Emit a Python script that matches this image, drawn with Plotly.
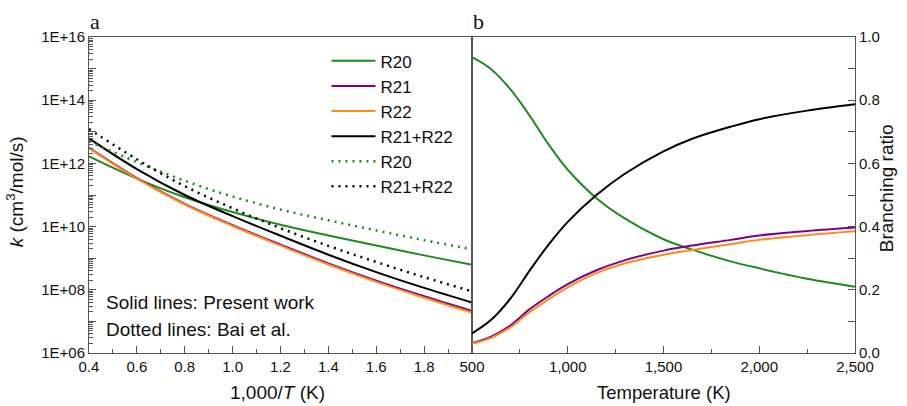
import plotly.graph_objects as go

# ---------------- Data (panel a) ----------------
inv_T = [0.4, 0.6, 0.8, 1.0, 1.2, 1.4, 1.6, 1.8, 2.0]
logk_R20 = [12.22, 11.52, 10.93, 10.46, 10.06, 9.72, 9.40, 9.09, 8.79]
logk_R21 = [12.49, 11.535, 10.72, 10.045, 9.43, 8.835, 8.29, 7.795, 7.33]
logk_R22 = [12.48, 11.52, 10.70, 10.02, 9.40, 8.80, 8.25, 7.75, 7.28]
logk_R21R22 = [12.79, 11.82, 11.00, 10.33, 9.71, 9.11, 8.56, 8.06, 7.60]
logk_R20_bai = [12.70, 12.04, 11.45, 10.95, 10.54, 10.20, 9.88, 9.57, 9.28]
logk_R21R22_bai = [13.09, 12.13, 11.28, 10.58, 9.95, 9.39, 8.88, 8.40, 7.95]

# ---------------- Data (panel b) ----------------
temp = [500, 600, 700, 800, 900, 1000, 1150, 1300, 1500, 1650, 1850, 2000, 2250, 2500]
br_R20 = [0.936, 0.898, 0.835, 0.752, 0.66, 0.58, 0.49, 0.425, 0.36, 0.327, 0.29, 0.268, 0.235, 0.210]
br_R21 = [0.031, 0.052, 0.087, 0.138, 0.18, 0.218, 0.262, 0.294, 0.324, 0.34, 0.358, 0.372, 0.386, 0.397]
br_R22 = [0.029, 0.048, 0.081, 0.129, 0.17, 0.208, 0.253, 0.284, 0.311, 0.326, 0.344, 0.358, 0.373, 0.385]
br_R21R22 = [0.062, 0.105, 0.172, 0.26, 0.343, 0.415, 0.50, 0.568, 0.638, 0.678, 0.716, 0.740, 0.767, 0.787]

# tick labels
left_x_ticks = [0.4, 0.6, 0.8, 1.0, 1.2, 1.4, 1.6, 1.8]
left_y_decades = list(range(6, 17))
right_x_ticks = [500, 1000, 1500, 2000, 2500]
right_y_ticks = [0.0, 0.2, 0.4, 0.6, 0.8, 1.0]

GREEN = "#1f8a1f"
PURPLE = "#800080"
ORANGE = "#ff8c1a"
BLACK = "#000000"
AXC = "#555555"
TXT = "#111111"
FONT = "Liberation Sans, Arial, sans-serif"
SERIF = "Liberation Serif, Times New Roman, serif"


def pw(v):
    return [10 ** x for x in v]


fig = go.Figure()
spl = dict(shape="spline", smoothing=1.0)

fig.add_trace(go.Scatter(x=inv_T, y=pw(logk_R20), mode="lines", name="R20",
                         line=dict(color=GREEN, width=2, **spl), xaxis="x", yaxis="y"))
fig.add_trace(go.Scatter(x=inv_T, y=pw(logk_R21), mode="lines", name="R21",
                         line=dict(color=PURPLE, width=2, **spl), xaxis="x", yaxis="y"))
fig.add_trace(go.Scatter(x=inv_T, y=pw(logk_R22), mode="lines", name="R22",
                         line=dict(color=ORANGE, width=2, **spl), xaxis="x", yaxis="y"))
fig.add_trace(go.Scatter(x=inv_T, y=pw(logk_R21R22), mode="lines", name="R21+R22",
                         line=dict(color=BLACK, width=2, **spl), xaxis="x", yaxis="y"))
fig.add_trace(go.Scatter(x=inv_T, y=pw(logk_R20_bai), mode="lines", name="R20",
                         line=dict(color=GREEN, width=2.5, dash="2px,5px", **spl), xaxis="x", yaxis="y"))
fig.add_trace(go.Scatter(x=inv_T, y=pw(logk_R21R22_bai), mode="lines", name="R21+R22",
                         line=dict(color=BLACK, width=2.5, dash="2px,5px", **spl), xaxis="x", yaxis="y"))

for yv, c in [(br_R20, GREEN), (br_R21, PURPLE), (br_R22, ORANGE), (br_R21R22, BLACK)]:
    fig.add_trace(go.Scatter(x=temp, y=yv, mode="lines", showlegend=False,
                             line=dict(color=c, width=2, **spl), xaxis="x2", yaxis="y2"))

tickfont = dict(family=FONT, size=15, color=TXT)

y_major_vals = [10 ** d for d in left_y_decades]
y_major_text = [("1E+%02d" % d) if d % 2 == 0 else "" for d in left_y_decades]
y_minor_vals = [m * 10 ** d for d in range(6, 16) for m in range(2, 10)]

fig.update_layout(
    width=907, height=406,
    margin=dict(l=89, r=52, t=37, b=53),
    paper_bgcolor="white", plot_bgcolor="white",
    font=dict(family=FONT, size=15, color=TXT),
    xaxis=dict(domain=[0, 0.5], range=[0.4, 2.0], anchor="y",
               tickmode="array", tickvals=left_x_ticks,
               ticktext=["%.1f" % v for v in left_x_ticks],
               ticks="inside", ticklen=7, tickcolor=AXC, tickwidth=1,
               minor=dict(tickmode="array", tickvals=[0.5, 0.7, 0.9, 1.1, 1.3, 1.5, 1.7, 1.9, 2.0],
                          ticks="inside", ticklen=4, tickcolor=AXC),
               showline=True, linecolor=AXC, linewidth=1, mirror=True,
               showgrid=False, zeroline=False, tickfont=tickfont),
    yaxis=dict(type="log", range=[6, 16], anchor="x",
               tickmode="array", tickvals=y_major_vals, ticktext=y_major_text,
               ticks="inside", ticklen=7, tickcolor=AXC,
               minor=dict(tickmode="array", tickvals=y_minor_vals,
                          ticks="inside", ticklen=3.5, tickcolor=AXC),
               showline=True, linecolor=AXC, linewidth=1, mirror=True,
               showgrid=False, zeroline=False, tickfont=tickfont),
    xaxis2=dict(domain=[0.5, 1], range=[500, 2500], anchor="y2",
                tickmode="array", tickvals=right_x_ticks,
                ticktext=["{:,}".format(v) for v in right_x_ticks],
                ticks="inside", ticklen=7, tickcolor=AXC,
                minor=dict(tickmode="array", tickvals=[750, 1250, 1750, 2250],
                           ticks="inside", ticklen=4, tickcolor=AXC),
                showline=True, linecolor=AXC, linewidth=1, mirror=True,
                showgrid=False, zeroline=False, tickfont=tickfont),
    yaxis2=dict(range=[0, 1], anchor="x2", side="right",
                tickmode="array", tickvals=right_y_ticks,
                ticktext=["%.1f" % v for v in right_y_ticks],
                ticks="inside", ticklen=7, tickcolor=AXC,
                minor=dict(tickmode="array", tickvals=[0.1, 0.3, 0.5, 0.7, 0.9],
                           ticks="inside", ticklen=7, tickcolor=AXC),
                showline=True, linecolor=AXC, linewidth=1, mirror=True,
                showgrid=False, zeroline=False, tickfont=tickfont),
    legend=dict(x=0.31, y=0.98, xanchor="left", yanchor="top",
                bgcolor="rgba(0,0,0,0)", borderwidth=0, tracegroupgap=0,
                itemwidth=44,
                font=dict(family=FONT, size=17, color=TXT)),
    showlegend=True,
)

ann = dict(showarrow=False, xref="paper", yref="paper")
fig.add_annotation(text="a", x=0.008, y=1.05, xanchor="center", yanchor="middle",
                   font=dict(family=SERIF, size=22, color=TXT), **ann)
fig.add_annotation(text="b", x=0.509, y=1.05, xanchor="center", yanchor="middle",
                   font=dict(family=SERIF, size=22, color=TXT), **ann)
fig.add_annotation(text="Solid lines: Present work", x=(104 - 89) / 766, y=(353 - 302) / 316.5,
                   xanchor="left", yanchor="middle", font=dict(family=FONT, size=19, color=TXT), **ann)
fig.add_annotation(text="Dotted lines: Bai et al.", x=(104 - 89) / 766, y=(353 - 329) / 316.5,
                   xanchor="left", yanchor="middle", font=dict(family=FONT, size=19, color=TXT), **ann)
fig.add_annotation(text="1,000/<i>T</i> (K)", x=0.246, y=(353 - 393) / 316.5,
                   xanchor="center", yanchor="middle", font=dict(family=FONT, size=19, color=TXT), **ann)
fig.add_annotation(text="Temperature (K)", x=0.751, y=(353 - 393) / 316.5,
                   xanchor="center", yanchor="middle", font=dict(family=FONT, size=18.5, color=TXT), **ann)
fig.add_annotation(text="<i>k</i> (cm<sup>3</sup>/mol/s)", x=(15 - 89) / 766, y=(353 - 192) / 316.5,
                   textangle=-90, xanchor="center", yanchor="middle",
                   font=dict(family=FONT, size=19, color=TXT), **ann)
fig.add_annotation(text="Branching ratio", x=(886 - 89) / 766, y=(353 - 188) / 316.5,
                   textangle=-90, xanchor="center", yanchor="middle",
                   font=dict(family=FONT, size=19, color=TXT), **ann)

fig.write_html("out.html")
